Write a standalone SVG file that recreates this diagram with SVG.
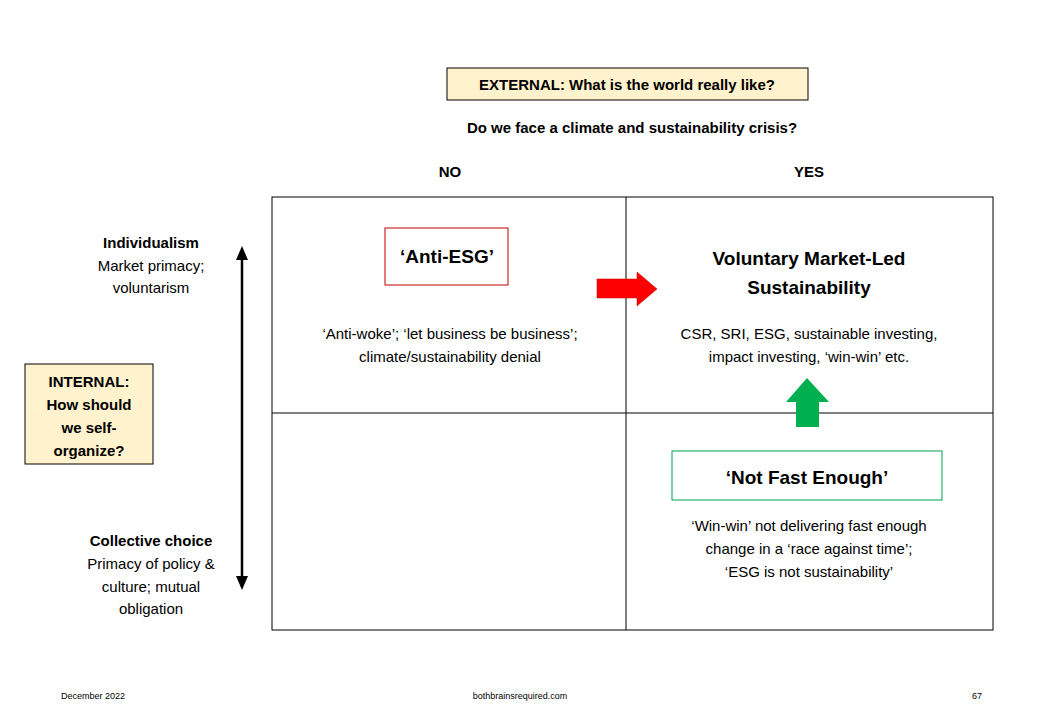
<svg xmlns="http://www.w3.org/2000/svg" width="1040" height="720" viewBox="0 0 1040 720">
<style>
text{font-family:"Liberation Sans",Arial,sans-serif;fill:#000;text-anchor:middle}
.b{font-weight:bold}
.t{font-size:15px}
.h{font-size:19px;font-weight:bold}
.f{font-size:9px}
.y{fill:#fff2cc;stroke:#000;stroke-width:1}
</style>
<rect width="1040" height="720" fill="#fff"/>
<g id="external"><rect class="y" x="447" y="68" width="361" height="32"/><text class="t b" x="627" y="90">EXTERNAL: What is the world really like?</text></g>
<g id="question"><text class="t b" x="632" y="133">Do we face a climate and sustainability crisis?</text>
<text class="t b" x="450" y="177">NO</text><text class="t b" x="809" y="177">YES</text></g>
<g id="grid" fill="none" stroke="#000" stroke-width="1"><rect x="272" y="197" width="721" height="433"/><line x1="626" y1="197" x2="626" y2="630"/><line x1="272" y1="413" x2="993" y2="413"/></g>
<g id="anti-esg"><rect x="385" y="228" width="123" height="57" fill="none" stroke="#c00000"/><text class="h" x="447" y="263">‘Anti-ESG’</text>
<text class="t" x="450" y="339">‘Anti-woke’; ‘let business be business’;</text><text class="t" x="450" y="362">climate/sustainability denial</text></g>
<g id="voluntary"><text class="h" x="809" y="265">Voluntary Market-Led</text><text class="h" x="809" y="294">Sustainability</text>
<text class="t" x="809" y="339">CSR, SRI, ESG, sustainable investing,</text><text class="t" x="809" y="362">impact investing, ‘win-win’ etc.</text></g>
<g id="notfast"><rect x="672" y="451" width="270" height="49" fill="none" stroke="#00a050"/><text class="h" x="807" y="484">‘Not Fast Enough’</text>
<text class="t" x="809" y="531">‘Win-win’ not delivering fast enough</text><text class="t" x="809" y="554">change in a ‘race against time’;</text><text class="t" x="809" y="577">‘ESG is not sustainability’</text></g>
<g id="left"><text class="t b" x="151" y="248">Individualism</text><text class="t" x="151" y="271">Market primacy;</text><text class="t" x="151" y="293">voluntarism</text>
<rect class="y" x="25" y="364" width="128" height="100"/>
<text class="t b" x="89" y="387">INTERNAL:</text><text class="t b" x="89" y="410">How should</text><text class="t b" x="89" y="433">we self-</text><text class="t b" x="89" y="456">organize?</text>
<text class="t b" x="151" y="546">Collective choice</text><text class="t" x="151" y="569">Primacy of policy &amp;</text><text class="t" x="151" y="592">culture; mutual</text><text class="t" x="151" y="614">obligation</text></g>
<g id="connectors">
<polygon points="597,279 637,279 637,272 657,289 637,306 637,298 597,298" fill="#ff0000" stroke="#c00000" stroke-width="0.5"/>
<polygon points="807,378 829,402 819,402 819,427 796,427 796,402 786,402" fill="#00b050"/>
<line x1="242" y1="258" x2="242" y2="578" stroke="#000" stroke-width="2.5"/>
<polygon points="242,246 236,260 248,260"/><polygon points="242,590 236,576 248,576"/>
</g>
<g id="footer"><text class="f" x="93" y="699">December 2022</text><text class="f" x="520" y="699">bothbrainsrequired.com</text><text class="f" x="977" y="699">67</text></g>
</svg>
